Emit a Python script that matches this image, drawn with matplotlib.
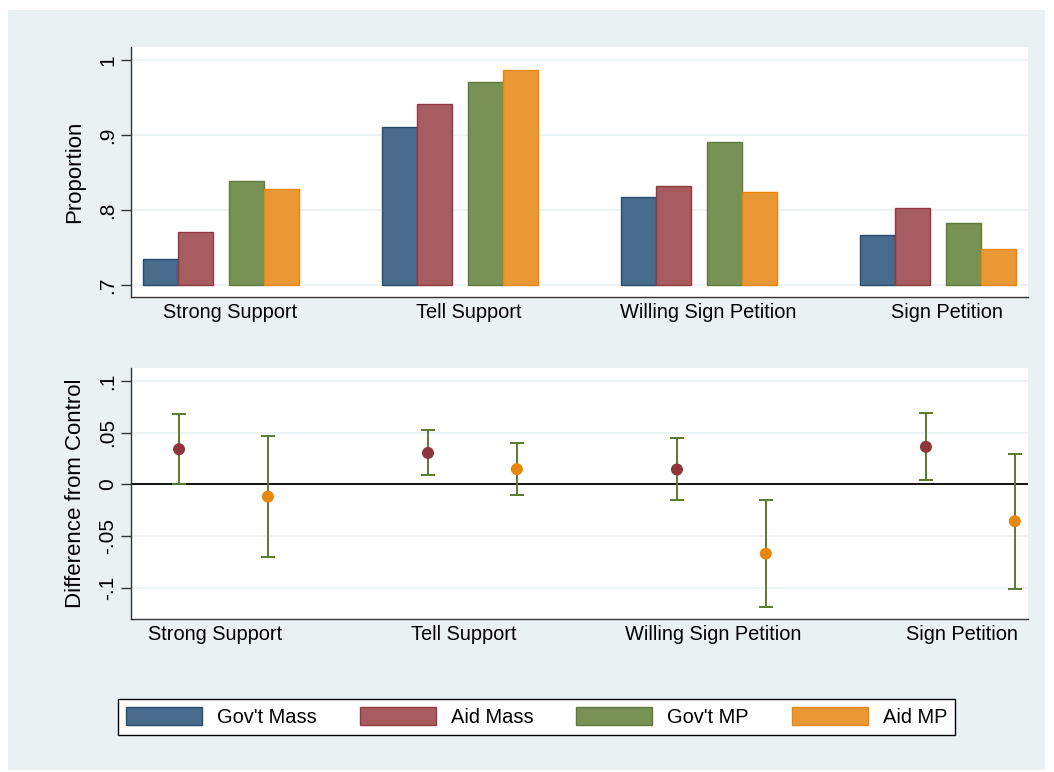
import numpy as np
import matplotlib.pyplot as plt
from matplotlib.patches import Rectangle, Patch

plt.rcParams['font.family'] = ['Liberation Sans', 'DejaVu Sans']

categories = ['Strong Support', 'Tell Support', 'Willing Sign Petition', 'Sign Petition']
series = ["Gov't Mass", 'Aid Mass', "Gov't MP", 'Aid MP']

# proportions by group (rows follow series)
govt_mass = [0.735, 0.910, 0.817, 0.766]
aid_mass = [0.770, 0.941, 0.832, 0.803]
govt_mp = [0.839, 0.971, 0.890, 0.783]
aid_mp = [0.828, 0.986, 0.824, 0.748]

# differences from control with confidence bounds
mass_diff = [0.0341, 0.0305, 0.0145, 0.0364]
mass_lo = [0.0002, 0.0087, -0.0152, 0.0043]
mass_hi = [0.0685, 0.0524, 0.0448, 0.0690]
mp_diff = [-0.0117, 0.0148, -0.0668, -0.0355]
mp_lo = [-0.0700, -0.0100, -0.1185, -0.1010]
mp_hi = [0.0470, 0.0403, -0.0146, 0.0298]

fill = ['#486b8c', '#a65c60', '#789155', '#ea9834']
edge = ['#2a4c6e', '#923840', '#5f7a3a', '#e8870e']
bg = '#eaf1f3'
grid = '#edf2f4'

fig = plt.figure(figsize=(10.54, 7.72), dpi=100)
fig.add_artist(Rectangle((8 / 1054, 1 - 770 / 772), 1037 / 1054, 760 / 772,
                         transform=fig.transFigure, facecolor=bg, edgecolor='none', zorder=-5))

def style_axes(ax):
    for s in ['top', 'right']:
        ax.spines[s].set_visible(False)
    for s in ['left', 'bottom']:
        ax.spines[s].set_color('#333333')
        ax.spines[s].set_linewidth(1.0)
    ax.tick_params(axis='y', direction='out', length=7, width=1, color='#333333',
                   labelsize=15, pad=3)
    ax.tick_params(axis='x', length=0, labelsize=14.4, pad=4)
    ax.grid(axis='y', color=grid, linewidth=1.5, zorder=0)
    ax.set_axisbelow(True)

# bar panel
ax1 = fig.add_axes([131 / 1054, 1 - 297 / 772, 897 / 1054, 250 / 772])
style_axes(ax1)
w, g = 0.146, 0.067
offsets = [-(g / 2 + 1.5 * w), -(g / 2 + 0.5 * w), g / 2 + 0.5 * w, g / 2 + 1.5 * w]
x = np.arange(len(categories))
for k, vals in enumerate([govt_mass, aid_mass, govt_mp, aid_mp]):
    ax1.bar(x + offsets[k], np.array(vals) - 0.7, width=w, bottom=0.7,
            color=fill[k], edgecolor=edge[k], linewidth=1, zorder=2)
ax1.set_xlim(-0.376, 3.376)
ax1.set_ylim(0.684, 1.017)
ax1.set_yticks([0.7, 0.8, 0.9, 1.0])
ax1.set_yticklabels(['.7', '.8', '.9', '1'], rotation=90, va='center')
ax1.set_xticks(x + 0.038)
ax1.set_xticklabels(categories)
ax1.set_ylabel('Proportion', fontsize=16, labelpad=9)

# difference panel
ax2 = fig.add_axes([131 / 1054, 1 - 619 / 772, 897 / 1054, 251 / 772])
style_axes(ax2)
shift = 0.357
ax2.axhline(0, color='black', linewidth=1.3, zorder=1)
for xs, d, lo, hi, col in [(x, mass_diff, mass_lo, mass_hi, '#8f353b'),
                           (x + shift, mp_diff, mp_lo, mp_hi, '#e8870e')]:
    d, lo, hi = np.array(d), np.array(lo), np.array(hi)
    ax2.errorbar(xs, d, yerr=[d - lo, hi - d], fmt='none', ecolor='#5a7a2e',
                 elinewidth=1.4, capsize=5, capthick=1.4, zorder=2)
    ax2.scatter(xs, d, s=75, color=col, edgecolor='none', zorder=3)
ax2.set_xlim(-0.193, 3.41)
ax2.set_ylim(-0.130, 0.1126)
ax2.set_yticks([0.1, 0.05, 0, -0.05, -0.1])
ax2.set_yticklabels(['.1', '.05', '0', '-.05', '-.1'], rotation=90, va='center')
ax2.set_xticks(x + 0.145)
ax2.set_xticklabels(categories)
ax2.set_ylabel('Difference from Control', fontsize=16, labelpad=9)

handles = [Patch(facecolor=fill[k], edgecolor=edge[k], linewidth=1) for k in range(4)]
leg = fig.legend(handles, series, loc='lower left', ncol=4, mode='expand',
                 bbox_to_anchor=(118 / 1054, 1 - 735 / 772, 837 / 1054, 38 / 772),
                 fontsize=14.4, frameon=True, fancybox=False, framealpha=1,
                 handlelength=3.8, handleheight=1.0, handletextpad=0.75,
                 borderaxespad=0, borderpad=0.4)
leg.get_frame().set_edgecolor('black')
leg.get_frame().set_linewidth(1.0)
leg.get_frame().set_facecolor('white')

fig.savefig('out.png', dpi=100, facecolor='white')
